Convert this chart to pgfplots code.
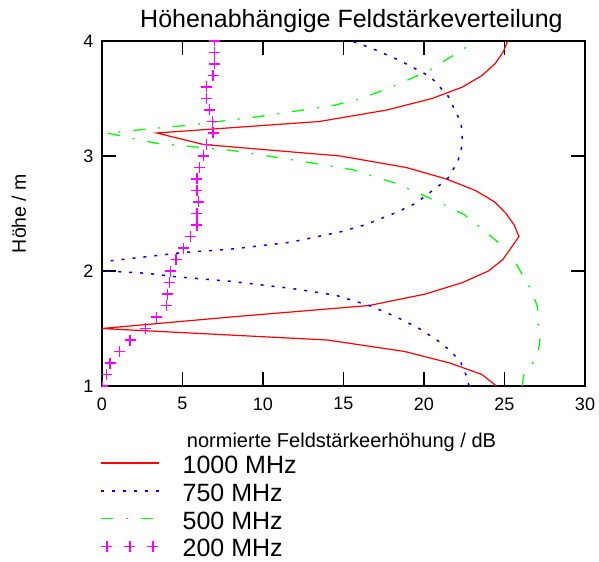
\documentclass[border=0pt]{standalone}
\usepackage{fontspec}
\setmainfont{Liberation Sans}
\usepackage{pgfplots}
\pgfplotsset{compat=1.18}

\definecolor{cRed}{RGB}{255,0,0}
\definecolor{cBlue}{RGB}{0,0,255}
\definecolor{cGreen}{RGB}{0,255,0}
\definecolor{cMag}{RGB}{255,0,255}

\pgfplotsset{
  linelegend/.style={legend image code/.code={\draw[##1] (0bp,2.6bp) -- (58bp,2.6bp);}},
  pluslegend/.style={legend image code/.code={\draw[##1] plot coordinates {(6bp,2.6bp) (29bp,2.6bp) (52bp,2.6bp)};}},
}

\begin{document}
\begin{tikzpicture}
\useasboundingbox (-102bp,-176bp) rectangle (497bp,386bp);
\begin{axis}[
  scale only axis,
  width=483bp, height=345bp,
  xmin=0, xmax=30, ymin=1, ymax=4,
  xtick={0,5,...,30}, ytick={1,2,3,4},
  minor tick num=0,
  tick align=inside,
  major tick length=14bp,
  clip marker paths=true,
  axis line style={black, line width=1.6bp},
  tick style={black, line width=1.3bp},
  /pgf/number format/assume math mode=true,
  ticklabel style={font=\fontsize{18bp}{18bp}\selectfont},
  xticklabel style={yshift=-8bp},
  yticklabel style={xshift=-5bp},
  title={H\"ohenabh\"angige Feldst\"arkeverteilung},
  title style={at={(axis description cs:0.5,1)}, anchor=base, yshift=8bp, xshift=8bp,
    font=\fontsize{25bp}{25bp}\selectfont},
  xlabel={normierte Feldst\"arkeerh\"ohung / dB},
  xlabel style={at={(axis description cs:0.5,0)}, anchor=base, yshift=-61bp, xshift=-2bp,
    font=\fontsize{20bp}{20bp}\selectfont},
  ylabel={H\"ohe / m},
  ylabel style={at={(axis description cs:-0.172,0.5)}, anchor=center, rotate=0,
    font=\fontsize{19.5bp}{19.5bp}\selectfont},
  legend cell align=left,
  legend style={at={(axis description cs:0,0)}, anchor=north west,
    xshift=-5bp, yshift=-68bp, draw=none, fill=none,
    font=\fontsize{25bp}{25bp}\selectfont,
    nodes={inner sep=0bp}, row sep=8.8bp, column sep=23bp},
]
% 1000 MHz
\addplot[cRed, line width=1.2bp, linelegend]
  coordinates {
  (24.5,1.0) (23.6,1.1) (21.6,1.2) (18.8,1.3) (14.0,1.4) (0.0,1.5)
  (8.0,1.6) (16.6,1.7) (20.1,1.8) (22.4,1.9) (24.0,2.0) (24.9,2.1)
  (25.4,2.2) (25.9,2.3) (25.6,2.4) (25.1,2.5) (24.4,2.6) (23.2,2.7)
  (21.4,2.8) (18.9,2.9) (14.8,3.0) (6.3,3.1) (3.4,3.2) (13.5,3.3)
  (17.7,3.4) (20.5,3.5) (22.4,3.6) (23.6,3.7) (24.4,3.8) (24.9,3.9)
  (25.2,4.0)
};
\addlegendentry{1000 MHz}
% 750 MHz
\addplot[cBlue, line width=1.5bp, dash pattern=on 3bp off 8bp, linelegend]
  coordinates {
  (22.8,1.00) (22.6,1.10) (22.3,1.20) (21.7,1.30) (20.8,1.40) (19.7,1.50)
  (18.3,1.60) (16.6,1.70) (14.5,1.79) (11.7,1.85) (8.0,1.91) (4.6,1.95)
  (2.8,1.98) (0.3,2.00) (-1.5,2.04) (0.0,2.08) (5.0,2.16) (8.0,2.19)
  (11.7,2.25) (14.8,2.34) (16.3,2.40) (18.3,2.51) (19.5,2.59) (21.0,2.75)
  (21.5,2.81) (22.1,2.95) (22.4,3.11) (22.3,3.29) (21.5,3.52) (20.4,3.69)
  (18.5,3.83) (16.7,3.94) (15.5,4.00)
};
\addlegendentry{750 MHz}
% 500 MHz
\addplot[cGreen, line width=1.3bp, dash pattern=on 12bp off 13bp on 2bp off 13bp, linelegend]
  coordinates {
  (26.1,1.0) (26.2,1.1) (26.75,1.2) (27.1,1.3) (27.2,1.4) (27.1,1.5)
  (27.05,1.69) (26.6,1.85) (26.1,1.97) (25.5,2.12) (24.6,2.25) (23.5,2.38)
  (22.5,2.49) (20.6,2.62) (18.3,2.76) (15.6,2.88) (11.7,2.97) (8.0,3.05)
  (3.4,3.11) (0.3,3.20) (5.5,3.27) (9.6,3.34) (14.4,3.44) (16.1,3.50)
  (18.35,3.62) (20.4,3.75) (22.1,3.90) (23.2,4.0)
};
\addlegendentry{500 MHz}
% 200 MHz
\addplot[cMag, only marks, mark=+, mark size=5.5bp,
  mark options={solid, draw=cMag, line width=1.25bp}, pluslegend]
  coordinates {
  (0.05,1.0) (0.3,1.1) (0.5,1.2) (1.1,1.3) (1.74,1.4) (2.7,1.5)
  (3.4,1.6) (4.0,1.7) (4.05,1.8) (4.2,1.9) (4.25,2.0) (4.6,2.1)
  (5.05,2.2) (5.5,2.3) (5.9,2.4) (5.9,2.5) (6.0,2.6) (5.9,2.7)
  (5.9,2.8) (6.05,2.9) (6.3,3.0) (6.5,3.1) (6.9,3.2) (6.85,3.3)
  (6.7,3.4) (6.5,3.5) (6.5,3.6) (6.9,3.7) (7.0,3.8) (7.0,3.9)
  (7.0,4.0)
};
\addlegendentry{200 MHz}
\end{axis}
\end{tikzpicture}
\end{document}
